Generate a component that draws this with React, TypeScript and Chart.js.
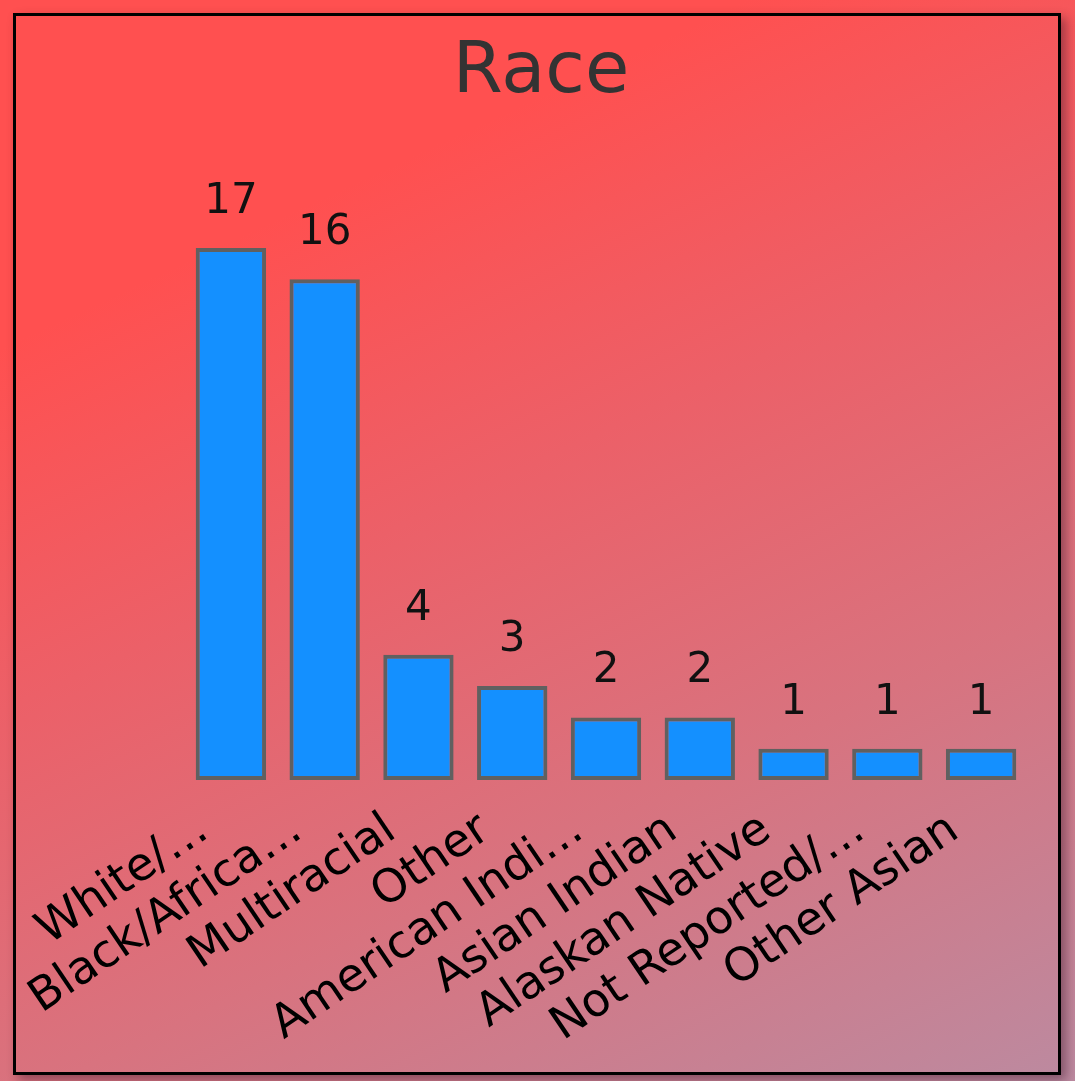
import React, { useEffect, useRef } from "react";
import { Chart, registerables } from "chart.js";

Chart.register(...registerables);

const categories = [
  "White/…",
  "Black/Africa…",
  "Multiracial",
  "Other",
  "American Indi…",
  "Asian Indian",
  "Alaskan Native",
  "Not Reported/…",
  "Other Asian",
];
const counts = [17, 16, 4, 3, 2, 2, 1, 1, 1];
const chartTitle = "Race";

const FONT = "'DejaVu Sans', Verdana, sans-serif";

// Draws the heading and writes each bar's count above it.
const decorations = {
  id: "decorations",
  afterDatasetsDraw(chart: any) {
    const { ctx } = chart;
    const meta = chart.getDatasetMeta(0);
    ctx.save();
    ctx.font = `72px ${FONT}`;
    ctx.fillStyle = "#333";
    ctx.textAlign = "center";
    ctx.textBaseline = "alphabetic";
    ctx.fillText(chartTitle, 525, 76);

    ctx.font = `42px ${FONT}`;
    ctx.fillStyle = "#111";
    meta.data.forEach((bar: any, i: number) => {
      ctx.fillText(String(counts[i]), bar.x, bar.y - 35);
    });
    ctx.restore();
  },
};

export default function App() {
  const canvasRef = useRef<HTMLCanvasElement | null>(null);

  useEffect(() => {
    document.body.style.margin = "0";
    const chart = new Chart(canvasRef.current as HTMLCanvasElement, {
      type: "bar",
      data: {
        labels: categories,
        datasets: [
          {
            data: counts,
            backgroundColor: "#1490FF",
            borderColor: "#606060",
            borderWidth: 4,
            borderSkipped: false,
            barPercentage: 0.75,
            categoryPercentage: 1,
          },
        ],
      },
      options: {
        animation: false,
        responsive: false,
        maintainAspectRatio: false,
        layout: { padding: { left: 168, right: 30, top: 232, bottom: 0 } },
        plugins: {
          legend: { display: false },
          tooltip: { enabled: false },
          title: { display: false },
        },
        scales: {
          x: {
            grid: { display: false },
            border: { display: false },
            afterFit: (scale: any) => {
              scale.height = 292;
            },
            ticks: {
              color: "#000",
              font: { family: FONT, size: 46 },
              minRotation: 34,
              maxRotation: 34,
              autoSkip: false,
              padding: 15,
              labelOffset: -27,
            },
          },
          y: {
            display: false,
            min: 0,
            max: 17,
          },
        },
      },
      plugins: [decorations],
    });
    return () => chart.destroy();
  }, []);

  return (
    <div
      style={{
        position: "fixed",
        inset: 0,
        width: 1075,
        height: 1081,
        background:
          "linear-gradient(155deg, #FF5050 0%, #FF5050 22%, #EC6068 45%, #D8737F 70%, #BC8AA0 100%)",
      }}
    >
      <div
        style={{
          position: "absolute",
          left: 13,
          top: 13,
          width: 1042,
          height: 1056,
          border: "3px solid #000",
          boxShadow: "5px 5px 10px rgba(60, 20, 40, 0.45)",
        }}
      >
        <canvas
          ref={canvasRef}
          width={1042}
          height={1056}
          style={{ display: "block", width: 1042, height: 1056 }}
        />
      </div>
    </div>
  );
}
